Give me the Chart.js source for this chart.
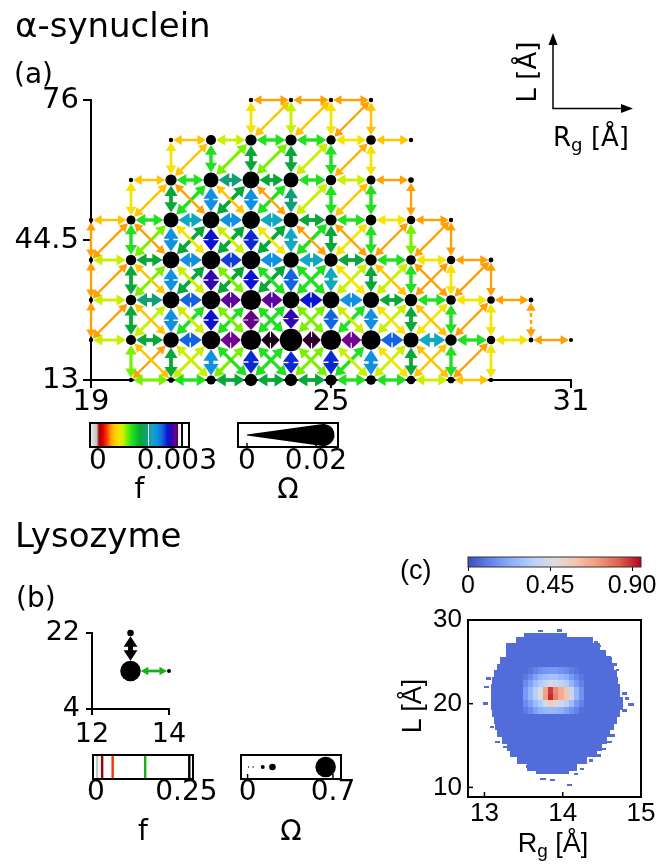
<!DOCTYPE html>
<html>
<head>
<meta charset="utf-8">
<title>α-synuclein / Lysozyme</title>
<script src="https://cdn.jsdelivr.net/npm/chart.js@4.4.1/dist/chart.umd.min.js"></script>
<style>
  html, body { margin: 0; padding: 0; background: #fff; }
  #fig { position: relative; width: 669px; height: 864px; overflow: hidden; font-family: "DejaVu Sans", sans-serif; color: #000; }
  #fig canvas, #fig svg { position: absolute; left: 0; top: 0; }
  .t { position: absolute; white-space: nowrap; line-height: 1; }
  .c { transform: translateX(-50%); }
  .r { transform: translate(-50%, -50%) rotate(-90deg); }
  .lib { font-family: "Liberation Sans", sans-serif; }
  sub { font-size: 70%; vertical-align: -0.25em; line-height: 0; }
</style>
</head>
<body>
<div id="fig">
  <canvas id="netA" width="669" height="864"></canvas>
  <canvas id="fBarA" width="669" height="864"></canvas>
  <canvas id="omBarA" width="669" height="864"></canvas>
  <canvas id="netB" width="669" height="864"></canvas>
  <canvas id="fBarB" width="669" height="864"></canvas>
  <canvas id="omBarB" width="669" height="864"></canvas>
  <canvas id="heat" width="669" height="864"></canvas>
  <canvas id="heatBar" width="669" height="864"></canvas>

  <svg width="669" height="864">
    <g stroke="#000" stroke-width="1.5">
      <line x1="553" y1="108.5" x2="553" y2="42"/>
      <line x1="552.3" y1="108.5" x2="623" y2="108.5"/>
    </g>
    <polygon points="553,33 548.5,45 557.5,45" fill="#000"/>
    <polygon points="633,108.5 621,104 621,113" fill="#000"/>
  </svg>

  <div class="t" style="left:15px;top:8px;font-size:34px">α-synuclein</div>
  <div class="t" style="left:14px;top:60px;font-size:28px">(a)</div>
  <div class="t r" style="left:527px;top:72px;font-size:26px">L [Å]</div>
  <div class="t" style="left:553px;top:124px;font-size:26px">R<sub>g</sub> [Å]</div>
  <div class="t c" style="left:139.5px;top:475px;font-size:28px">f</div>
  <div class="t c" style="left:288px;top:475px;font-size:28px">Ω</div>

  <div class="t" style="left:15px;top:518px;font-size:34px">Lysozyme</div>
  <div class="t" style="left:16px;top:584px;font-size:28px">(b)</div>
  <div class="t c" style="left:143px;top:817px;font-size:28px">f</div>
  <div class="t c" style="left:291px;top:817px;font-size:28px">Ω</div>

  <div class="t lib" style="left:400px;top:557px;font-size:27px">(c)</div>
  <div class="t r lib" style="left:412px;top:706px;font-size:27px">L [Å]</div>
  <div class="t c lib" style="left:553px;top:830px;font-size:27px">R<sub>g</sub> [Å]</div>
</div>

<script>
const W = 669, H = 864;
const FONT = '"DejaVu Sans", sans-serif';
const FONT_C = '"Liberation Sans", sans-serif';

// ---------- (a) alpha-synuclein network on the (Rg, L) grid ----------
const rowsL = [13, 22, 31, 40, 49, 58, 67, 76];
const rowStartA = [20, 19, 19, 19, 19, 20, 21, 23];   // Rg of first node in each row
// node weight Omega, left to right, one list per row
const omegaA = [
  [0.0004, 0.0015, 0.0046, 0.0077, 0.0077, 0.0067, 0.0052, 0.0042, 0.0025, 0.0004],
  [0.0004, 0.0056, 0.0108, 0.0135, 0.0150, 0.0171, 0.0150, 0.0142, 0.0104, 0.0069, 0.0042, 0.0008, 0.0002],
  [0.0004, 0.0060, 0.0119, 0.0135, 0.0150, 0.0119, 0.0119, 0.0113, 0.0079, 0.0052, 0.0033, 0.0008],
  [0.0004, 0.0060, 0.0119, 0.0135, 0.0135, 0.0108, 0.0088, 0.0069, 0.0052, 0.0042, 0.0008],
  [0.0004, 0.0046, 0.0102, 0.0119, 0.0129, 0.0102, 0.0067, 0.0063, 0.0042, 0.0004],
  [0.0004, 0.0067, 0.0102, 0.0119, 0.0102, 0.0060, 0.0046, 0.0015],
  [0.0004, 0.0056, 0.0067, 0.0067, 0.0050, 0.0052, 0.0004],
  [0.0004, 0.0004, 0.0004, 0.0004]
];
// edge flux f, in units of 1e-4
// horizontal edges, row by row, starting at rowStartA
const hEdgeA = [
  [11, 13, 16, 16, 16, 13, 13, 9.6, 6.2],
  [9.6, 16, 24.5, 29.5, 32, 31.5, 29.5, 24.5, 20.5, 13, 8, 5],
  [9.6, 18.5, 24.5, 29, 29, 26.5, 22.5, 16, 13, 8, 5],
  [9.6, 16, 22.5, 25.5, 22.5, 20.5, 16, 13, 8, 5],
  [6.2, 13, 20.5, 22.5, 20.5, 16, 13, 8, 5],
  [6.2, 13, 18.5, 16, 13, 9.6, 5],
  [6.2, 9.6, 13, 13, 8, 6.2],
  [5, 5, 5]
];
// vertical edges between row i and row i+1
const vStartA = [20, 19, 19, 19, 20, 21, 23];
const vEdgeA = [
  [11, 16, 22.5, 26, 26, 26, 22.5, 16, 13, 8],
  [5, 16, 22.5, 26.5, 29.8, 28, 24.5, 22.5, 16, 13, 8, 5],
  [5, 16, 22.5, 28, 26.5, 24.5, 20.5, 16, 13, 8, 5],
  [5, 13, 22.5, 26.5, 26, 20.5, 16, 13, 11, 5],
  [8, 16, 22.5, 22.5, 18.5, 13, 13, 5],
  [8, 13, 16, 16, 13, 8],
  [8, 9.6, 8, 6.2]
];
// diagonal "/" edges: (Rg, L) -> (Rg+1, next L)
const upStartA = [20, 19, 19, 19, 20, 21, 23];
const upEdgeA = [
  [5, 9.6, 11, 13, 11, 13, 9.6, 6.2, 5],
  [5, 9.6, 13, 13, 13, 11, 13, 9.6, 8, 5],
  [5, 11, 16, 16, 16, 13, 9.6, 9.6, 5, 5],
  [5, 11, 16, 16, 16, 13, 8, 5, 5],
  [6.2, 13, 16, 13, 9.6, 6.2],
  [6.2, 11, 11, 9.6, 5.6],
  [6.2, 6.2, 5]
];
// diagonal "\" edges: (Rg, next L) -> (Rg+1, L)
const downStartA = [20, 20, 20, 20, 21];
const downEdgeA = [
  [6.2, 9.6, 13, 13, 11, 9.6, 8, 6.2],
  [6.2, 9.6, 11, 13, 11, 9.6, 8, 6.2],
  [6.2, 9.6, 11, 13, 13, 8, 6.2, 5],
  [5, 8, 9.6, 8, 5, 5],
  [5, 6.2, 5]
];
const dashedA = [[30, 22, 30, 31]];
const xTicksA = [19, 25, 31];
const yTicksA = [13, 44.5, 76];
// colour bar (a): f ranges that occur (1e-4 units)
const fBandsA = [[-3, 18.9], [19.3, 30.6], [31.6, 32.2]];
const fTicksA = [0, 0.003];
const omegaTicksA = [0, 0.02];
const omegaLegendA = [0, 0.0222];

// ---------- (b) lysozyme ----------
const nodesB = [[13, 13, 0.64], [13, 22, 0.204], [14, 13, 0.124]];
const edgesB = [[13, 13, 14, 13, 0.136], [13, 13, 13, 22, 0.258]];
const xTicksB = [12, 14];
const yTicksB = [4, 22];
const fMarksB = [0.003, 0.017, 0.046, 0.136, 0.258];
const fTicksB = [0, 0.25];
const omegaLegendB = [0.008, 0.045, 0.124, 0.204, 0.64];
const omegaTicksB = [0, 0.7];

// ---------- (c) probability map P(Rg, L) ----------
const bodyValue = 0.07;
const hmLo  = [11.6, 12.0, 12.8, 13.6, 14.4, 15.2, 16.0, 16.8, 17.6, 18.4, 19.2, 20.0, 20.8, 21.6, 22.4, 23.2, 24.0, 24.8, 25.6, 26.4, 27.2, 28.0];
const hmHi  = [12.0, 12.8, 13.6, 14.4, 15.2, 16.0, 16.8, 17.6, 18.4, 19.2, 20.0, 20.8, 21.6, 22.4, 23.2, 24.0, 24.8, 25.6, 26.4, 27.2, 28.0, 28.5];
const hmMin = [13.66, 13.54, 13.42, 13.33, 13.29, 13.22, 13.16, 13.14, 13.12, 13.10, 13.08, 13.08, 13.08, 13.08, 13.10, 13.12, 13.16, 13.20, 13.27, 13.28, 13.40, 13.50];
const hmMax = [14.08, 14.18, 14.31, 14.44, 14.50, 14.56, 14.61, 14.65, 14.69, 14.73, 14.77, 14.77, 14.73, 14.73, 14.71, 14.69, 14.65, 14.63, 14.55, 14.47, 14.39, 14.05];
// isolated bins outside the main body: [Rg, L, width in Rg]
const strays = [
  [13.715, 28.7, 0.06], [13.96, 28.75, 0.06], [14.42, 27.4, 0.05], [14.47, 26.9, 0.05],
  [14.58, 25.5, 0.08], [14.66, 24.7, 0.06], [14.70, 24.0, 0.05],
  [14.79, 21.2, 0.07], [14.82, 20.6, 0.06], [14.87, 19.9, 0.07], [14.79, 19.2, 0.06],
  [13.05, 23.0, 0.06], [13.03, 22.0, 0.06], [13.01, 20.0, 0.06], [13.10, 17.2, 0.05], [13.17, 15.4, 0.06],
  [13.27, 14.8, 0.06], [13.36, 13.8, 0.06], [13.50, 13.0, 0.08], [13.58, 12.5, 0.1],
  [13.75, 11.0, 0.08], [13.87, 10.9, 0.07], [14.09, 10.3, 0.06], [14.17, 11.6, 0.06],
  [14.25, 12.2, 0.05], [14.36, 13.2, 0.06], [14.45, 13.8, 0.08], [14.52, 14.6, 0.06],
  [14.59, 15.4, 0.08], [14.64, 16.2, 0.06]
];
// central peak, bin edges and values (rows bottom to top)
const hotRg = [13.49, 13.555, 13.62, 13.685, 13.75, 13.815, 13.88, 13.945, 14.01, 14.075, 14.14, 14.205, 14.27];
const hotL = [18.8, 19.6, 20.4, 21.2, 22.0, 22.8, 23.6, 24.4];
const hotVals = [
  [0.10, 0.14, 0.20, 0.24, 0.26, 0.27, 0.26, 0.24, 0.20, 0.16, 0.12, 0.08],
  [0.14, 0.20, 0.28, 0.34, 0.45, 0.55, 0.50, 0.42, 0.36, 0.28, 0.18, 0.12],
  [0.18, 0.26, 0.36, 0.46, 0.70, 0.90, 0.76, 0.66, 0.60, 0.42, 0.26, 0.16],
  [0.18, 0.26, 0.36, 0.46, 0.68, 0.88, 0.74, 0.66, 0.58, 0.40, 0.26, 0.16],
  [0.14, 0.20, 0.28, 0.34, 0.40, 0.44, 0.42, 0.38, 0.34, 0.26, 0.18, 0.12],
  [0.10, 0.14, 0.20, 0.25, 0.28, 0.30, 0.30, 0.27, 0.24, 0.18, 0.13, 0.09],
  [0.07, 0.09, 0.12, 0.15, 0.17, 0.18, 0.18, 0.16, 0.14, 0.11, 0.09, 0.07]
];
const xTicksC = [13, 14, 15];
const yTicksC = [10, 20, 30];
const cTicks = [0, 0.45, 0.90];
const C_MAX = 0.949;

// ---------- colour maps ----------
function hex2rgb(h) { const n = parseInt(h.slice(1), 16); return [n >> 16, (n >> 8) & 255, n & 255]; }
function lerpStops(stops, v) {
  if (v <= stops[0][0]) return stops[0][1];
  for (let i = 1; i < stops.length; i++) {
    if (v <= stops[i][0]) {
      const [v0, c0] = stops[i - 1], [v1, c1] = stops[i];
      const t = (v - v0) / (v1 - v0);
      return c0.map((c, k) => c + (c1[k] - c) * t);
    }
  }
  return stops[stops.length - 1][1];
}
const rgb = c => `rgb(${c.map(Math.round).join(',')})`;
const STOPS_A = [
  [-3, '#ececec'], [-0.5, '#c4c4c4'], [0.5, '#a00000'], [2, '#e00000'], [3.5, '#ff4000'],
  [5, '#ffa000'], [6.2, '#ffc400'], [8, '#f4e400'], [9.6, '#c8f000'], [11, '#78f000'],
  [13, '#20e020'], [16, '#08a838'], [18.5, '#10a078'], [20.5, '#10a8c0'], [22.5, '#1090e0'],
  [24.5, '#1064e0'], [26.5, '#0a14d0'], [28, '#3008b0'], [29.5, '#700090'], [31, '#400040'], [32, '#1a001a']
].map(([v, h]) => [v, hex2rgb(h)]);
const STOPS_B = [
  [0, '#cccccc'], [0.008, '#c0c0c0'], [0.017, '#a00000'], [0.046, '#ff3000'], [0.09, '#ffd000'],
  [0.136, '#18b018'], [0.2, '#1060e0'], [0.24, '#600090'], [0.258, '#000000']
].map(([v, h]) => [v, hex2rgb(h)]);
const COOL = [[0, [59, 76, 192]], [0.125, [98, 130, 234]], [0.25, [141, 176, 254]], [0.375, [184, 208, 249]],
  [0.5, [221, 221, 221]], [0.625, [245, 196, 173]], [0.75, [244, 154, 123]], [0.875, [222, 96, 77]], [1, [180, 4, 38]]];
const coolwarm = v => rgb(lerpStops(COOL, v / C_MAX));

const rA = o => 2 + 540 * o;
const rB = o => Math.max(0.7, 16 * o);

// ---------- helpers ----------
function head(ctx, tx, ty, ux, uy, hl, hh) {
  const bx = tx - ux * hl, by = ty - uy * hl;
  ctx.beginPath();
  ctx.moveTo(tx, ty);
  ctx.lineTo(bx - uy * hh, by + ux * hh);
  ctx.lineTo(bx + uy * hh, by - ux * hh);
  ctx.closePath();
  ctx.fill();
}
function arrow(ctx, p1, p2, r1, r2, color, lw, hl0, hw, dashed) {
  const dx = p2.x - p1.x, dy = p2.y - p1.y, d = Math.hypot(dx, dy);
  const ux = dx / d, uy = dy / d;
  const hl = Math.min(hl0, (d - r1 - r2) * 0.47);
  const ax = p1.x + ux * r1, ay = p1.y + uy * r1;
  const bx = p2.x - ux * r2, by = p2.y - uy * r2;
  ctx.strokeStyle = color; ctx.fillStyle = color; ctx.lineWidth = lw; ctx.lineCap = 'butt';
  ctx.setLineDash(dashed ? [4, 3] : []);
  ctx.beginPath();
  ctx.moveTo(ax + ux * hl * 0.8, ay + uy * hl * 0.8);
  ctx.lineTo(bx - ux * hl * 0.8, by - uy * hl * 0.8);
  ctx.stroke();
  ctx.setLineDash([]);
  head(ctx, ax, ay, -ux, -uy, hl, hw / 2);
  head(ctx, bx, by, ux, uy, hl, hw / 2);
}
function box(ctx, ca, lw, color) {
  ctx.save();
  ctx.strokeStyle = color || '#000'; ctx.lineWidth = lw;
  ctx.strokeRect(ca.left, ca.top, ca.right - ca.left, ca.bottom - ca.top);
  ctx.restore();
}
function innerTicks(ctx, ca, scale, vals, len, lw) {
  ctx.save();
  ctx.strokeStyle = '#000'; ctx.lineWidth = lw;
  vals.forEach(v => {
    const px = scale.getPixelForValue(v);
    ctx.beginPath(); ctx.moveTo(px, ca.bottom); ctx.lineTo(px, ca.bottom - len); ctx.stroke();
  });
  ctx.restore();
}

function linAxis(min, max, ticks, fmt, o) {
  return {
    type: 'linear', min, max, display: o.display !== false,
    afterBuildTicks: s => { s.ticks = ticks.map(v => ({ value: v })); },
    afterFit: s => { if (o.horizontal) s.height = o.size; else s.width = o.size; },
    ticks: { autoSkip: false, maxRotation: 0, padding: o.pad || 0, color: '#000',
             font: { family: o.family || FONT, size: o.font || 12, lineHeight: 1 }, callback: v => fmt(v) },
    grid: { display: true, drawOnChartArea: false, drawTicks: (o.tl || 0) > 0, tickLength: o.tl || 0,
            color: '#000', lineWidth: o.lw || 2 },
    border: { display: !!o.border, color: '#000', width: 2 }
  };
}
const hidden = { type: 'linear', min: -1, max: 1, display: false };
const num = v => String(v);
const zeroOr = v => (v === 0 ? '0' : String(v));

function makeChart(id, area, yW, xH, x, y, datasets, plugin) {
  return new Chart(document.getElementById(id), {
    type: 'scatter',
    data: { datasets },
    options: {
      responsive: false, animation: false, devicePixelRatio: 1, events: [],
      layout: { autoPadding: false,
        padding: { left: area.l - yW, top: area.t, right: W - area.r, bottom: H - area.b - xH } },
      plugins: { legend: { display: false }, tooltip: { enabled: false } },
      scales: { x, y }
    },
    plugins: plugin ? [plugin] : []
  });
}

// ---------- (a) network ----------
const omegaAt = {};
const nodesA = [];
omegaA.forEach((row, i) => row.forEach((o, k) => {
  const x = rowStartA[i] + k;
  omegaAt[x + ',' + rowsL[i]] = o;
  nodesA.push({ x, y: rowsL[i], o });
}));
const diagA = [], straightA = [];
hEdgeA.forEach((row, i) => row.forEach((f, k) =>
  straightA.push([rowStartA[i] + k, rowsL[i], rowStartA[i] + k + 1, rowsL[i], f])));
vEdgeA.forEach((row, i) => row.forEach((f, k) =>
  straightA.push([vStartA[i] + k, rowsL[i], vStartA[i] + k, rowsL[i + 1], f])));
upEdgeA.forEach((row, i) => row.forEach((f, k) =>
  diagA.push([upStartA[i] + k, rowsL[i], upStartA[i] + k + 1, rowsL[i + 1], f])));
downEdgeA.forEach((row, i) => row.forEach((f, k) =>
  diagA.push([downStartA[i] + k, rowsL[i + 1], downStartA[i] + k + 1, rowsL[i], f])));
straightA.sort((a, b) => a[4] - b[4]);
const edgesA = diagA.concat(straightA);
const dashedKeys = new Set(dashedA.map(e => e.join(',')));

const netPluginA = {
  id: 'netEdgesA',
  beforeDatasetsDraw(chart) {
    const { ctx, scales: { x, y } } = chart;
    ctx.save();
    edgesA.forEach(e => {
      const [x1, l1, x2, l2, f] = e;
      const p1 = { x: x.getPixelForValue(x1), y: y.getPixelForValue(l1) };
      const p2 = { x: x.getPixelForValue(x2), y: y.getPixelForValue(l2) };
      const lw = 1.7 + 0.13 * f;
      arrow(ctx, p1, p2, rA(omegaAt[x1 + ',' + l1]), rA(omegaAt[x2 + ',' + l2]),
        rgb(lerpStops(STOPS_A, f)), lw, 1.4 * lw + 5, 2.4 * lw + 4, dashedKeys.has(e.slice(0, 4).join(',')));
    });
    ctx.restore();
  }
};
makeChart('netA', { l: 91, r: 571, t: 100, b: 380 }, 80, 50,
  linAxis(19, 31, xTicksA, num, { horizontal: true, size: 50, pad: 0, font: 29, tl: 8, border: true }),
  linAxis(13, 76, yTicksA, num, { size: 80, pad: 4, font: 29, tl: 8, border: true }),
  [{ data: nodesA, pointRadius: c => rA(c.raw.o), pointHoverRadius: c => rA(c.raw.o),
     backgroundColor: '#000', borderWidth: 0, clip: false }],
  netPluginA);

// colour bar f (a)
makeChart('fBarA', { l: 90, r: 189, t: 423, b: 447 }, 0, 40,
  linAxis(-0.0003, 0.00346, fTicksA, zeroOr, { horizontal: true, size: 40, pad: 1, font: 28, tl: 0 }),
  hidden, [],
  {
    id: 'fBarA',
    beforeDatasetsDraw(chart) {
      const { ctx, chartArea: ca, scales: { x } } = chart;
      for (let px = Math.round(ca.left); px < ca.right; px++) {
        const f4 = x.getValueForPixel(px + 0.5) * 1e4;
        if (!fBandsA.some(([a, b]) => f4 >= a && f4 <= b)) continue;
        ctx.fillStyle = rgb(lerpStops(STOPS_A, f4));
        ctx.fillRect(px, ca.top, 1, ca.bottom - ca.top);
      }
      box(ctx, ca, 2);
    }
  });

// Omega legend (a)
makeChart('omBarA', { l: 238, r: 338, t: 423, b: 447 }, 0, 40,
  linAxis(-0.0026, 0.0264, omegaTicksA, zeroOr, { horizontal: true, size: 40, pad: 1, font: 28, tl: 0 }),
  hidden, [],
  {
    id: 'omBarA',
    beforeDatasetsDraw(chart) {
      const { ctx, chartArea: ca, scales: { x } } = chart;
      const x0 = x.getPixelForValue(omegaLegendA[0]), x1 = x.getPixelForValue(omegaLegendA[1]);
      const yc = (ca.top + ca.bottom) / 2;
      const R = Math.min(rA(omegaLegendA[1]), (ca.bottom - ca.top) / 2 - 1);
      ctx.save();
      ctx.fillStyle = '#000';
      ctx.beginPath();
      ctx.moveTo(x0, yc - 0.6);
      ctx.lineTo(x1 - R * 0.25, yc - R * 0.97);
      ctx.arc(x1, yc, R, -Math.PI * 0.58, Math.PI * 0.58);
      ctx.lineTo(x0, yc + 0.6);
      ctx.closePath();
      ctx.fill();
      ctx.restore();
      innerTicks(ctx, ca, x, omegaTicksA, 4, 1.5);
      box(ctx, ca, 2);
    }
  });

// ---------- (b) lysozyme network ----------
const netPluginB = {
  id: 'netEdgesB',
  beforeDatasetsDraw(chart) {
    const { ctx, scales: { x, y } } = chart;
    const rAt = {};
    nodesB.forEach(([nx, ny, o]) => { rAt[nx + ',' + ny] = rB(o); });
    ctx.save();
    edgesB.forEach(([x1, l1, x2, l2, f]) => {
      const p1 = { x: x.getPixelForValue(x1), y: y.getPixelForValue(l1) };
      const p2 = { x: x.getPixelForValue(x2), y: y.getPixelForValue(l2) };
      const lw = 0.3 + 18 * f;
      arrow(ctx, p1, p2, rAt[x1 + ',' + l1], rAt[x2 + ',' + l2],
        rgb(lerpStops(STOPS_B, f)), lw, 1.3 * lw + 4, 2.4 * lw + 2, false);
    });
    ctx.restore();
  }
};
makeChart('netB', { l: 92, r: 169, t: 633, b: 709 }, 80, 50,
  linAxis(12, 14, xTicksB, num, { horizontal: true, size: 50, pad: 6, font: 27, tl: 6, border: true }),
  linAxis(4, 22, yTicksB, num, { size: 80, pad: 6, font: 27, tl: 6, border: true }),
  [{ data: nodesB.map(([x, y, o]) => ({ x, y, o })), pointRadius: c => rB(c.raw.o),
     pointHoverRadius: c => rB(c.raw.o), backgroundColor: '#000', borderWidth: 0, clip: false }],
  netPluginB);

// colour bar f (b)
makeChart('fBarB', { l: 93, r: 193, t: 755, b: 779 }, 0, 40,
  linAxis(-0.0083, 0.2683, fTicksB, zeroOr, { horizontal: true, size: 40, pad: 0, font: 28, tl: 0 }),
  hidden, [],
  {
    id: 'fBarB',
    beforeDatasetsDraw(chart) {
      const { ctx, chartArea: ca, scales: { x } } = chart;
      ctx.save();
      fMarksB.forEach(f => {
        const px = x.getPixelForValue(f);
        ctx.fillStyle = rgb(lerpStops(STOPS_B, f));
        ctx.fillRect(px - 1.2, ca.top, 2.4, ca.bottom - ca.top);
      });
      ctx.restore();
      box(ctx, ca, 2);
    }
  });

// Omega legend (b)
makeChart('omBarB', { l: 241, r: 341, t: 755, b: 779 }, 0, 40,
  linAxis(-0.054, 0.766, omegaTicksB, zeroOr, { horizontal: true, size: 40, pad: 0, font: 28, tl: 0 }),
  hidden,
  [{ data: omegaLegendB.map(o => ({ x: o, y: 0, o })), pointRadius: c => rB(c.raw.o),
     pointHoverRadius: c => rB(c.raw.o), backgroundColor: '#000', borderWidth: 0, clip: false }],
  {
    id: 'omBarB',
    afterDatasetsDraw(chart) {
      const { ctx, chartArea: ca, scales: { x } } = chart;
      innerTicks(ctx, ca, x, omegaTicksB, 5, 1.5);
      box(ctx, ca, 2);
    }
  });

// ---------- (c) heat map ----------
makeChart('heat', { l: 468, r: 641, t: 620, b: 797 }, 60, 40,
  linAxis(12.79, 15, xTicksC, num, { horizontal: true, size: 40, pad: 4, font: 26, tl: 0, family: FONT_C }),
  linAxis(8.85, 30, yTicksC, num, { size: 60, pad: 6, font: 26, tl: 0, family: FONT_C }),
  [],
  {
    id: 'heatCells',
    beforeDatasetsDraw(chart) {
      const { ctx, chartArea: ca, scales: { x, y } } = chart;
      const cell = (x0, x1, y0, y1, v) => {
        const px0 = Math.round(x.getPixelForValue(x0)), px1 = Math.round(x.getPixelForValue(x1));
        const py0 = Math.round(y.getPixelForValue(y1)), py1 = Math.round(y.getPixelForValue(y0));
        ctx.fillStyle = coolwarm(v);
        ctx.fillRect(px0, py0, Math.max(1, px1 - px0), Math.max(1, py1 - py0));
      };
      ctx.save();
      ctx.beginPath(); ctx.rect(ca.left, ca.top, ca.right - ca.left, ca.bottom - ca.top); ctx.clip();
      hmLo.forEach((lo, i) => cell(hmMin[i], hmMax[i], lo, hmHi[i], bodyValue));
      strays.forEach(([rg, l, w]) => cell(rg - w / 2, rg + w / 2, l - 0.15, l + 0.15, bodyValue));
      hotVals.forEach((row, i) => row.forEach((v, k) =>
        cell(hotRg[k], hotRg[k + 1], hotL[i], hotL[i + 1], v)));
      ctx.restore();
      // inward ticks
      ctx.save();
      ctx.strokeStyle = '#000'; ctx.lineWidth = 1.5;
      xTicksC.forEach(v => {
        const px = x.getPixelForValue(v);
        ctx.beginPath(); ctx.moveTo(px, ca.bottom); ctx.lineTo(px, ca.bottom - 5); ctx.stroke();
      });
      yTicksC.forEach(v => {
        const py = y.getPixelForValue(v);
        ctx.beginPath(); ctx.moveTo(ca.left, py); ctx.lineTo(ca.left + 5, py); ctx.stroke();
      });
      ctx.restore();
      box(ctx, ca, 2);
    }
  });

// colour bar (c)
makeChart('heatBar', { l: 468, r: 641, t: 557, b: 567 }, 0, 40,
  linAxis(0, C_MAX, cTicks, v => (v === 0 ? '0' : v.toFixed(2)),
    { horizontal: true, size: 40, pad: 3, font: 25, tl: 4, lw: 1, family: FONT_C }),
  hidden, [],
  {
    id: 'heatBarFill',
    beforeDatasetsDraw(chart) {
      const { ctx, chartArea: ca, scales: { x } } = chart;
      for (let px = Math.round(ca.left); px < ca.right; px++) {
        ctx.fillStyle = coolwarm(Math.min(C_MAX, Math.max(0, x.getValueForPixel(px + 0.5))));
        ctx.fillRect(px, ca.top, 1, ca.bottom - ca.top);
      }
      box(ctx, ca, 1, '#333');
    }
  });
</script>
</body>
</html>
